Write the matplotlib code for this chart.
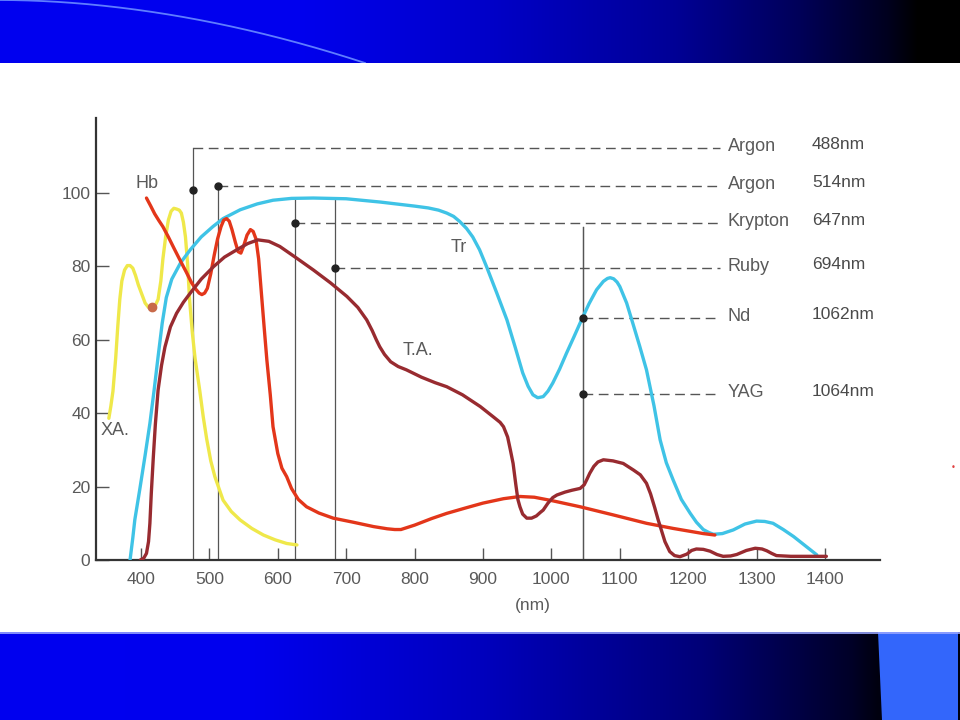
import numpy as np
import matplotlib
matplotlib.use("Agg")
import matplotlib.pyplot as plt
from matplotlib.patches import Polygon
from matplotlib import font_manager

# ---------------- data ----------------
xa_nm = [353, 356, 359, 363, 366, 369, 372, 376, 380, 384, 388, 392, 396, 401, 406,
         411, 416, 420, 425, 429, 432, 436, 440, 444, 448, 452, 456, 459, 462, 465,
         468, 471, 475, 479, 486, 491, 496, 502, 508, 520, 532, 545, 562, 579, 596, 613, 628]
xa_val = [38.6, 42, 46, 55, 63.5, 71, 76, 79, 80.2, 80.2, 79.5, 77.5, 75, 72.5, 70,
          68.8, 68.5, 69, 71, 76, 82, 88, 92.6, 95, 95.8, 95.6, 95.3, 94.5, 92, 88,
          81, 71, 62, 55, 46, 39, 33, 27, 22.7, 16.3, 13.2, 10.9, 8.6, 6.8, 5.5, 4.5, 4.1]

tr_nm = [384, 388, 391, 398, 406, 413, 419, 425, 431, 437, 445, 458, 472, 488, 505,
         520, 545, 570, 593, 620, 652, 700, 750, 800, 820, 835, 847, 857, 866, 876,
         885, 895, 905, 920, 935, 947, 958, 966, 973, 980, 988, 995, 1002, 1012, 1022,
         1033, 1044, 1055, 1066, 1076, 1082, 1086, 1091, 1096, 1100, 1110, 1119, 1129,
         1139, 1150, 1159, 1168, 1178, 1190, 1203, 1212, 1222, 1230, 1237, 1250, 1266,
         1283, 1300, 1312, 1324, 1339, 1354, 1371, 1388]
tr_val = [0, 6, 11, 19, 28.5, 37.2, 46, 55.4, 64.5, 71.5, 76.5, 81, 84.5, 88, 90.8,
          93, 95.4, 97, 98, 98.5, 98.6, 98.4, 97.5, 96.4, 95.9, 95.3, 94.5, 93.6, 92.2, 90.3,
          88, 84.5, 80, 72.8, 65.4, 58, 51, 47.3, 45, 44.2, 44.5, 46, 48.2, 52, 56.3,
          60.8, 65.4, 69.8, 73.6, 75.9, 76.7, 76.9, 76.6, 75.7, 74.5, 70, 64.5, 58.3,
          51.8, 42, 32.7, 26.5, 21.8, 16.5, 12.7, 10.3, 8.3, 7.5, 7, 7.2, 8.2,
          9.8, 10.6, 10.5, 10, 8.3, 6.4, 3.9, 1.4]

hb_nm = [408, 414, 420, 426, 432, 440, 448, 457, 466, 474, 480, 485, 489, 493, 497, 502,
         507, 512, 517, 521, 525, 529, 533, 538, 542, 546, 550, 555, 560, 564, 568,
         572, 576, 580, 584, 589, 593, 600, 606, 613, 620, 630, 642, 660, 681, 710,
         740, 760, 771, 780, 800, 825, 847, 875, 900, 930, 954, 975, 1000, 1042, 1090,
         1139, 1178, 1222, 1239]
hb_val = [98.6, 96.5, 94.3, 92.5, 90.8, 88, 85, 81.7, 78.5, 75.5, 73.8, 72.7, 72.3, 72.7, 74, 78,
          83, 87.5, 90.8, 92.6, 93, 92.3, 90, 86.5, 84, 83.6, 85.5, 88.5, 90, 89.5, 87.5,
          82, 72.7, 63.5, 54.5, 45, 36.3, 29, 25, 22.7, 19.5, 16.5, 14.5, 12.8, 11.4, 10.3,
          9.1, 8.5, 8.3, 8.3, 9.5, 11.3, 12.7, 14.2, 15.5, 16.7, 17.3, 17.1, 16.2, 14.5, 12.3,
          10, 8.6, 7.2, 6.8]

ta_nm = [399, 404, 408, 411, 413, 415, 418, 421, 425, 430, 435, 443, 452, 462, 472,
         488, 506, 522, 540, 556, 571, 587, 603, 627, 652, 677, 701, 717, 730, 738,
         744, 749, 756, 765, 776, 788, 810, 830, 847, 870, 896, 915, 925, 930, 936,
         940, 944, 948, 951, 954, 958, 964, 971, 978, 984, 988, 995, 1002, 1008, 1020,
         1030, 1042, 1048, 1052, 1056, 1062, 1068, 1076, 1090, 1105, 1120, 1130, 1139,
         1145, 1151, 1156, 1161, 1166, 1173, 1180, 1188, 1198, 1205, 1212, 1222, 1232,
         1242, 1251, 1262, 1271, 1285, 1298, 1308, 1315, 1322, 1329, 1350, 1380, 1402]
ta_val = [0, 0.5, 1.8, 5, 10, 18, 28, 37, 46.3, 53, 58, 63.5, 67.2, 70.2, 72.7,
          76.5, 79.9, 82.5, 84.5, 86.2, 87.2, 86.8, 85.4, 82.3, 79, 75.5, 71.8, 68.8, 65.4, 62.5,
          60, 58.1, 56, 54, 52.7, 51.8, 49.8, 48.3, 47.2, 45, 41.8, 39, 37.5, 36.3, 33.5,
          30, 26.3, 20.5, 16.5, 14.5, 12.5, 11.4, 11.4, 12, 13, 13.6, 15.5, 17, 17.7, 18.5,
          19, 19.5, 20.5, 22, 23.6, 25.5, 26.7, 27.3, 27, 26.3, 24.5, 23.2, 20.9,
          18, 14.3, 11, 8, 5, 2.3, 1.2, 0.9, 1.6, 2.6, 3, 2.9, 2.4,
          1.5, 1, 1.1, 1.5, 2.6, 3.2, 3, 2.5, 1.8, 1.2, 1, 1, 1]

xa_mark = (416, 68.8)

laser_names = ["Argon", "Argon", "Krypton", "Ruby", "Nd", "YAG"]
laser_labels = ["488nm", "514nm", "647nm", "694nm", "1062nm", "1064nm"]
laser_x = [476, 513, 625, 684, 1046, 1046]
laser_dot_y = [100.8, 102, 91.8, 79.6, 66, 45.2]
laser_dash_y = [112.3, 102, 91.8, 79.6, 66, 45.2]
laser_top = [112.3, 102, 98.1, 98.1, 90.8, 90.8]
dash_end = 1246
name_x = 1258
num_x = 1381

x_ticks = [400, 500, 600, 700, 800, 900, 1000, 1100, 1200, 1300, 1400]
y_ticks = [0, 20, 40, 60, 80, 100]

# ---------------- styling ----------------
try:
    font_manager.findfont("Liberation Sans Narrow", fallback_to_default=False)
    tick_font, tick_size = "Liberation Sans Narrow", 14
except Exception:
    tick_font, tick_size = "Liberation Sans", 12.5
text_font = "Liberation Sans"
grey = "#5a5a5a"

fig = plt.figure(figsize=(9.6, 7.2), dpi=100)
fig.patch.set_facecolor("white")

# top banner
axt = fig.add_axes([0, 1 - 63 / 720, 1, 63 / 720])
px = np.arange(960)
top_b = np.interp(px, [0, 300, 490, 673, 796, 888, 918, 960],
                  [240, 238, 200, 150, 90, 30, 0, 0]) / 255
img = np.zeros((1, 960, 3))
img[0, :, 2] = top_b
axt.imshow(img, aspect="auto", extent=[0, 960, 63, 0], interpolation="bilinear")
arc_x = np.linspace(0, 365, 300)
axt.plot(arc_x, 63 * (arc_x / 365) ** 1.9, color="#5f7dff", lw=1.3)
axt.set_xlim(0, 960)
axt.set_ylim(63, 0)
axt.axis("off")

# bottom banner
axb = fig.add_axes([0, 0, 1, 88 / 720])
bot_b = np.interp(px, [0, 250, 480, 700, 850, 878, 960],
                  [240, 238, 190, 120, 40, 15, 15]) / 255
img2 = np.zeros((1, 960, 3))
img2[0, :, 2] = bot_b
axb.imshow(img2, aspect="auto", extent=[0, 960, 88, 0], interpolation="bilinear")
axb.add_patch(Polygon([(878, 0), (958, 0), (958, 88), (882, 88)], closed=True,
                      facecolor="#3366fb", edgecolor="none"))
axb.plot([0, 960], [0.5, 0.5], color="#9aa6ff", lw=1.2)
axb.set_xlim(0, 960)
axb.set_ylim(88, 0)
axb.axis("off")

# chart axes
x0 = 400 - 45 / 68.4 * 100
x1 = 400 + 739 / 68.4 * 100
ax = fig.add_axes([96 / 960, 1 - 560 / 720, (880 - 96) / 960, (560 - 118) / 720])
ax.set_facecolor("none")
ax.set_xlim(x0, x1)
ax.set_ylim(0, 120.4)
for s in ["top", "right"]:
    ax.spines[s].set_visible(False)
for s in ["left", "bottom"]:
    ax.spines[s].set_color("#333333")
    ax.spines[s].set_linewidth(1.6)
ax.set_xticks(x_ticks)
ax.set_yticks(y_ticks)
ax.set_xticklabels([str(t) for t in x_ticks], fontfamily=tick_font, fontsize=tick_size)
ax.set_yticklabels([str(t) for t in y_ticks], fontfamily=tick_font, fontsize=tick_size)
ax.tick_params(axis="both", direction="in", length=9, width=1, color="#555555",
               labelcolor=grey)
ax.tick_params(axis="x", pad=9)
ax.tick_params(axis="y", pad=4)

# laser lines
for i in range(len(laser_names)):
    ax.plot([laser_x[i], laser_x[i]], [0, laser_top[i]], color="#555555", lw=0.9, zorder=1)
    ax.plot([laser_x[i], dash_end], [laser_dash_y[i], laser_dash_y[i]], color="#555555",
            lw=1.0, dashes=(7, 4), zorder=1)
    ax.plot(laser_x[i], laser_dot_y[i], "o", color="#222222", ms=5, zorder=5)
    ax.text(name_x, laser_dash_y[i] + 0.3, laser_names[i], fontfamily=text_font, fontsize=13,
            color=grey, va="center", ha="left")
    ax.text(num_x, laser_dash_y[i] + 0.8, laser_labels[i], fontfamily=text_font, fontsize=12.5,
            color="#4a4a4a", va="center", ha="left")

# curves
ax.plot(xa_nm, xa_val, color="#efe84a", lw=2.4, solid_capstyle="round",
        solid_joinstyle="round", zorder=3)
ax.plot(tr_nm, tr_val, color="#3fc3e6", lw=2.4, solid_capstyle="round",
        solid_joinstyle="round", zorder=3)
ax.plot(hb_nm, hb_val, color="#e3361a", lw=2.4, solid_capstyle="round",
        solid_joinstyle="round", zorder=3)
ax.plot(ta_nm, ta_val, color="#982b30", lw=2.4, solid_capstyle="round",
        solid_joinstyle="round", zorder=4)
ax.plot(*xa_mark, "o", color="#c86a4a", ms=6, zorder=4)

# curve labels
ax.text(409.5, 102.6, "Hb", fontfamily=text_font, fontsize=13, color=grey, ha="center", va="center")
ax.text(362, 35.4, "XA.", fontfamily=text_font, fontsize=13, color=grey, ha="center", va="center")
ax.text(865, 85, "Tr", fontfamily=text_font, fontsize=13, color=grey, ha="center", va="center")
ax.text(805, 57.2, "T.A.", fontfamily=text_font, fontsize=13, color=grey, ha="center", va="center")
ax.text(973, -12.5, "(nm)", fontfamily=tick_font, fontsize=tick_size, color=grey,
        ha="center", va="center", clip_on=False)

fig.text(953 / 960, 1 - 468 / 720, "•", color="#e04040", fontsize=6, ha="center", va="center")

fig.savefig("out.png", dpi=100, facecolor="white")
